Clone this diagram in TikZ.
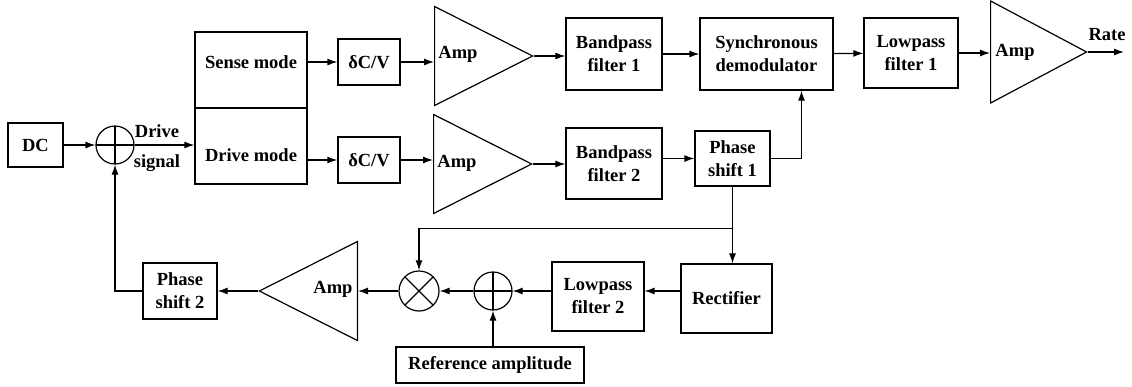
\documentclass[tikz,border=0pt]{standalone}
\usepackage{fontspec}
\setmainfont{Liberation Serif}
\usetikzlibrary{positioning,calc,arrows.meta,shapes.geometric}

\begin{document}
\begin{tikzpicture}[
    x=1pt, y=-1pt,
    every node/.style={font=\fontsize{18.5}{23}\selectfont\bfseries, align=center},
    block/.style={rectangle, draw, line width=1.2pt, inner sep=0pt},
    amp/.style={isosceles triangle, isosceles triangle stretches, draw, line width=1.2pt,
        inner sep=0pt, minimum width=99pt, minimum height=98pt},
    sumnode/.style={circle, draw, line width=1.2pt, minimum size=38pt, inner sep=0pt,
        path picture={\draw[line width=1.2pt] (path picture bounding box.north) -- (path picture bounding box.south)
            (path picture bounding box.west) -- (path picture bounding box.east);}},
    mixnode/.style={circle, draw, line width=1.2pt, minimum size=40pt, inner sep=0pt,
        path picture={\draw[line width=1.2pt] (path picture bounding box.north west) -- (path picture bounding box.south east)
            (path picture bounding box.north east) -- (path picture bounding box.south west);}},
    edge/.style={draw, line width=1.2pt, -{Latex[length=10pt,width=7pt]}}
]
\useasboundingbox (0,0) rectangle (1132,386);

% Define node positions (top chain)
\node[block, minimum width=55pt, minimum height=44pt] (dc) at (35.5,145) {DC};
\node[sumnode] (sum1) at (115,145) {};
\node[block, minimum width=112pt, minimum height=76pt] (sense) at (251,70) {};
\node[block, minimum width=112pt, minimum height=76pt] (drive) at (251,146) {};
\node (sensetxt) at (251,62) {Sense mode};
\node (drivetxt) at (251,155) {Drive mode};
\node[block, minimum width=62pt, minimum height=46pt] (dcv1) at (369,62) {δC/V};
\node[block, minimum width=62pt, minimum height=46pt] (dcv2) at (369,160) {δC/V};
\node[amp, anchor=west] (amp1) at (434,56) {};
\node[amp, anchor=west] (amp2) at (433,164) {};
\node (amp1txt) at (458,54) {Amp};
\node (amp2txt) at (457,163) {Amp};
\node[block, minimum width=96pt, minimum height=72pt] (bp1) at (614,54) {Bandpass\\filter 1};
\node[block, minimum width=96pt, minimum height=71pt] (bp2) at (614,163.5) {Bandpass\\filter 2};
\node[block, minimum width=133pt, minimum height=72pt] (demod) at (766.5,54) {Synchronous\\demodulator};
\node[block, minimum width=75pt, minimum height=55pt] (ps1) at (732.5,158.5) {Phase\\shift 1};
\node[block, minimum width=94pt, minimum height=70pt] (lp1) at (911,53) {Lowpass\\filter 1};
\node[amp, anchor=west, minimum width=102pt, minimum height=96pt] (amp3) at (990,52) {};
\node (amp3txt) at (1015,52) {Amp};
\coordinate (rate) at (1124,52);
\node (ratetxt) at (1107,35) {Rate};
\node (drivelbl) at (157,131) {Drive};
\node (signallbl) at (157,163) {signal};

% Define node positions (amplitude loop)
\node[block, minimum width=91pt, minimum height=69pt] (rect) at (726.5,298.5) {Rectifier};
\node[block, minimum width=92pt, minimum height=69pt] (lp2) at (598,296.5) {Lowpass\\filter 2};
\node[sumnode] (sum2) at (493,291) {};
\node[block, minimum width=188pt, minimum height=36pt] (refamp) at (490,365) {Reference amplitude};
\node[mixnode] (mix) at (419,291) {};
\node[amp, anchor=east, shape border rotate=180] (amp4) at (358,291) {};
\node (amp4txt) at (333,289) {Amp};
\node[block, minimum width=74pt, minimum height=56pt] (ps2) at (180,291) {Phase\\shift 2};
\coordinate (split) at ($(ps1.south)!0.55!(ps1.south |- rect.north)$);

% Draw connectors
\draw[edge] (dc) -- (sum1);
\draw[edge] (sum1) -- (drive.west |- sum1);
\draw[edge] (sense.east |- dcv1) -- (dcv1);
\draw[edge] (drive.east |- dcv2) -- (dcv2);
\draw[edge] (dcv1) -- (amp1.west |- dcv1);
\draw[edge] (dcv2) -- (amp2.west |- dcv2);
\draw[edge] (amp1.east) -- (bp1.west |- amp1.east);
\draw[edge] (amp2.east) -- (bp2.west |- amp2.east);
\draw[edge] (bp1) -- (demod);
\draw[edge] (bp2.east |- ps1) -- (ps1);
\draw[edge] (ps1.east) -| ([xshift=35pt]demod.south);
\draw[edge] (demod) -- (lp1);
\draw[edge] (lp1) -- (amp3.west |- lp1);
\draw[edge] (amp3.east) -- (rate);
\draw[edge] (ps1.south) -- (ps1.south |- rect.north);
\draw[edge] (split) -| (mix.north);
\draw[edge] (rect.west |- sum2) -- (lp2.east |- sum2);
\draw[edge] (lp2.west |- sum2) -- (sum2);
\draw[edge] (refamp.north -| sum2) -- (sum2);
\draw[edge] (sum2) -- (mix);
\draw[edge] (mix) -- (amp4.east |- mix);
\draw[edge] (amp4.west) -- (ps2);
\draw[edge] (ps2.west) -| (sum1.south);

\end{tikzpicture}
\end{document}
